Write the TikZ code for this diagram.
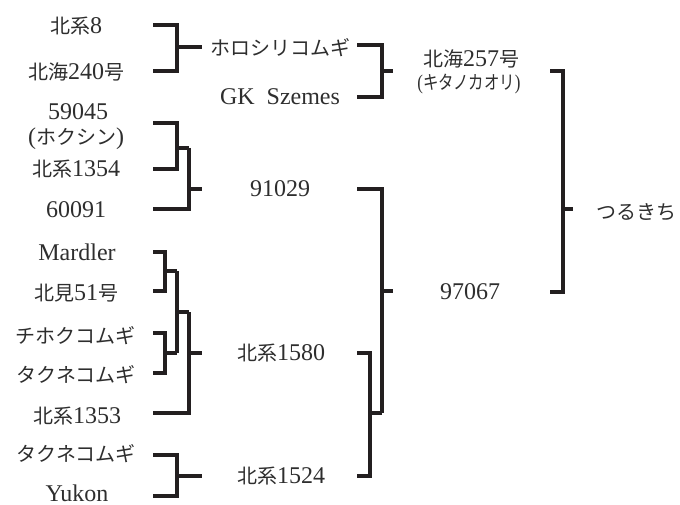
\documentclass[tikz,border=0pt]{standalone}
\usepackage{fontspec}
\setmainfont{Liberation Serif}
\newfontfamily\cjk{Noto Sans CJK JP}
\newcommand\J[1]{{\cjk\fontsize{20}{24}\selectfont #1}}
\definecolor{ink}{HTML}{231F20}
\definecolor{txt}{HTML}{2E2E2E}
\begin{document}
\begin{tikzpicture}[x=1pt,y=-1pt,
  br/.style={draw=ink,line width=3.2pt,line join=miter},
  lab/.style={inner sep=0pt,anchor=base,text=txt,font=\fontsize{24}{26}\selectfont}]
\useasboundingbox (0,0) rectangle (680,505);
% left column
\node[lab] (n1) at (76,34) {\J{北系}8};
\node[lab] (n2) at (76,80) {\J{北海}240\J{号}};
\node[lab] (n3) at (78,120) {59045};
\node[lab] (n3b) at (76,145) {(\J{ホクシン})};
\node[lab] (n4) at (76,177) {\J{北系}1354};
\node[lab] (n5) at (76,218) {60091};
\node[lab] (n6) at (77,260) {Mardler};
\node[lab] (n7) at (76,300) {\J{北見}51\J{号}};
\node[lab] (n8) at (76,343) {\J{チホクコムギ}};
\node[lab] (n9) at (76,382) {\J{タクネコムギ}};
\node[lab] (n10) at (77,423) {\J{北系}1353};
\node[lab] (n11) at (76,461) {\J{タクネコムギ}};
\node[lab] (n12) at (77,501) {Yukon};
% middle column
\node[lab] (m1) at (280,56) {\J{ホロシリコムギ}};
\node[lab] (m2) at (280,105) {GK\hspace{12pt}Szemes};
\node[lab] (m3) at (280,197) {91029};
\node[lab] (m4) at (281,360) {\J{北系}1580};
\node[lab] (m5) at (281,483) {\J{北系}1524};
% right column
\node[lab] (r1) at (471,67) {\J{北海}257\J{号}};
\node[lab,font=\fontsize{22}{24}\selectfont] (r1b) at (469,90)
  {\scalebox{0.77}[0.95]{(\J{キタノカオリ})}};
\node[lab] (r2) at (470,299) {97067};
\node[lab] (t) at (636,219) {\J{つるきち}};
% bracket coordinates
\coordinate (a1) at (153,25);  \coordinate (a2) at (153,71);
\coordinate (ja) at (177,47);  \coordinate (oa) at (202,47);
\coordinate (b1) at (153,123); \coordinate (b2) at (153,169);
\coordinate (jb) at (177,148); \coordinate (ob) at (189,148);
\coordinate (c2) at (153,209); \coordinate (jc) at (189,189); \coordinate (oc) at (202,189);
\coordinate (d1) at (153,252); \coordinate (d2) at (153,291);
\coordinate (jd) at (165,271); \coordinate (od) at (177,271);
\coordinate (e1) at (153,333); \coordinate (e2) at (153,373);
\coordinate (je) at (165,353); \coordinate (oe) at (177,353);
\coordinate (jf) at (177,312); \coordinate (of) at (189,312);
\coordinate (g2) at (153,413); \coordinate (jg) at (189,353); \coordinate (og) at (202,353);
\coordinate (h1) at (153,455); \coordinate (h2) at (153,496);
\coordinate (jh) at (177,476); \coordinate (oh) at (202,476);
\coordinate (i1) at (357,45);  \coordinate (i2) at (357,97);
\coordinate (ji) at (382,71);  \coordinate (oi) at (393,71);
\coordinate (j1) at (357,353); \coordinate (j2) at (357,476);
\coordinate (jj) at (370,413); \coordinate (oj) at (382,413);
\coordinate (k1) at (357,189); \coordinate (jk) at (382,291); \coordinate (ok) at (393,291);
\coordinate (q1) at (550,71);  \coordinate (q2) at (550,292);
\coordinate (jq) at (563,209); \coordinate (oq) at (573,209);
% brackets
\draw[br] (a1) -| (ja) |- (a2);  \draw[br] (ja) -- (oa);
\draw[br] (b1) -| (jb) |- (b2);  \draw[br] (jb) -- (ob);
\draw[br] (ob) |- (c2);          \draw[br] (jc) -- (oc);
\draw[br] (d1) -| (jd) |- (d2);  \draw[br] (jd) -- (od);
\draw[br] (e1) -| (je) |- (e2);  \draw[br] (je) -- (oe);
\draw[br] (od) -- (oe);          \draw[br] (jf) -- (of);
\draw[br] (of) |- (g2);          \draw[br] (jg) -- (og);
\draw[br] (h1) -| (jh) |- (h2);  \draw[br] (jh) -- (oh);
\draw[br] (i1) -| (ji) |- (i2);  \draw[br] (ji) -- (oi);
\draw[br] (j1) -| (jj) |- (j2);  \draw[br] (jj) -- (oj);
\draw[br] (k1) -| (oj);          \draw[br] (jk) -- (ok);
\draw[br] (q1) -| (jq) |- (q2);  \draw[br] (jq) -- (oq);
\end{tikzpicture}
\end{document}
